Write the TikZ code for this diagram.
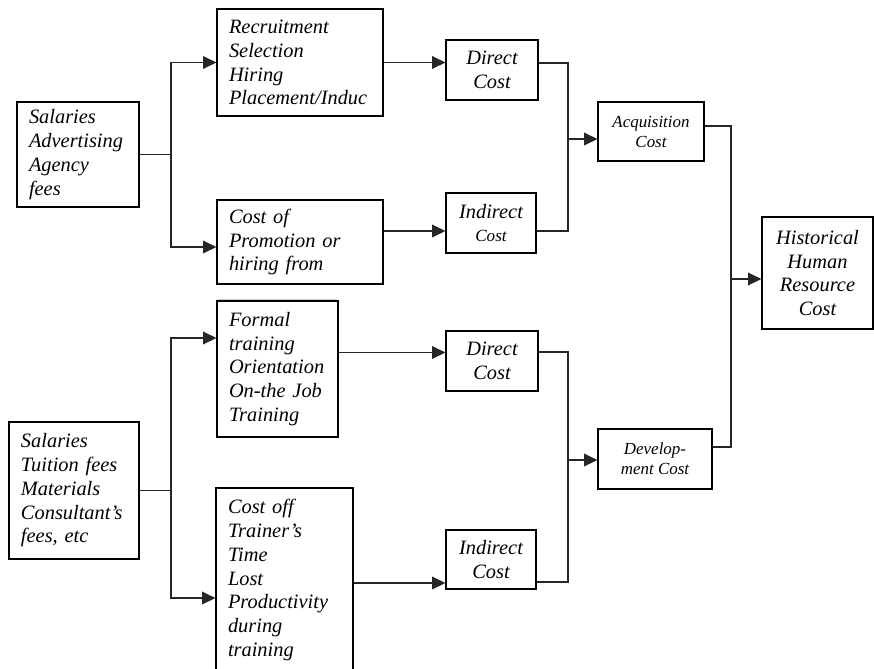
\documentclass[tikz,border=0pt]{standalone}
\usepackage{fontspec}
\setmainfont{Liberation Serif}
\usetikzlibrary{arrows.meta,calc}
\tikzset{
  bx/.style={draw, line width=0.9pt, inner xsep=9pt, inner ysep=0pt,
    font=\itshape\fontsize{15.3}{17.8}\selectfont},
  lbox/.style n args={2}{bx, align=left, text width=#1, minimum height=#2},
  cbox/.style n args={2}{bx, align=center, inner xsep=2pt, minimum width=#1, minimum height=#2},
  smallf/.style={font=\itshape\fontsize{12.7}{15}\selectfont},
  ln/.style={line width=1pt, draw=black!85},
  arr/.style={ln, -{Triangle[length=10pt,width=9.5pt]}}
}
\begin{document}
\begin{tikzpicture}[x=0.75pt,y=-0.75pt]
\useasboundingbox (0,0) rectangle (874,668);
\clip (0,0) rectangle (874,668);
% left sources
\node[lbox={73.5pt}{78.75pt}] (a1) at (78,154.5) {Salaries\\Advertising\\Agency\\fees};
\node[lbox={79.5pt}{102.75pt}] (a2) at (74,490.5) {Salaries\\Tuition fees\\Materials\\Consultant’s\\fees, etc};
% activities
\node[lbox={106.5pt}{80.25pt}] (r1) at (300,62.5) {Recruitment\\Selection\\Hiring\\Placement/Induc};
\node[lbox={106.5pt}{63pt}] (r2) at (300,242) {Cost of\\Promotion or\\hiring from};
\node[lbox={72.75pt}{102pt}] (f1) at (277.5,369) {Formal\\training\\Orientation\\On-the Job\\Training};
\node[lbox={84.75pt}{138pt}] (c2) at (284.5,580) {Cost off\\Trainer’s\\Time\\Lost\\Productivity\\during\\training};
% direct / indirect
\node[cbox={69pt}{45pt}] (d1) at (492,70) {Direct\\Cost};
\node[cbox={67.5pt}{45pt}] (i1) at (491,223) {Indirect\\{\fontsize{12.8}{15}\selectfont Cost}};
\node[cbox={69pt}{45pt}] (d2) at (492,361) {Direct\\Cost};
\node[cbox={67.5pt}{44.25pt}] (i2) at (491,559.5) {Indirect\\Cost};
% aggregates
\node[cbox={79.5pt}{44.25pt}, smallf] (acq) at (651,131.5) {Acquisition\\Cost};
\node[cbox={85.5pt}{45pt}, smallf] (dev) at (655,459) {Develop-\\ment Cost};
\node[cbox={83.25pt}{84pt}] (his) at (817.5,273) {Historical\\Human\\Resource\\Cost};
% faint line
\draw[gray!40, line width=0.6pt] (217,299) -- (337,299);
% connectors from sources
\coordinate (s1) at (171,154.5);
\draw[ln] (a1.east) -- (s1);
\draw[arr] (s1) |- (r1.west);
\draw[arr] (s1) |- ($(r2.west)+(0,5)$);
\coordinate (s2) at (171,490.5);
\draw[ln] (a2.east) -- (s2);
\draw[arr] (s2) |- ($(f1.west)+(0,-31)$);
\draw[arr] (s2) |- ($(c2.west)+(0,18)$);
% activities to direct/indirect
\draw[arr] (r1.east) -- (r1.east -| d1.west);
\coordinate (r2o) at ($(r2.east)+(0,-11)$);
\draw[arr] (r2o) -- (r2o -| i1.west);
\coordinate (f1o) at ($(f1.east)+(0,-16.5)$);
\draw[arr] (f1o) -- (f1o -| d2.west);
\coordinate (c2o) at ($(c2.east)+(0,3)$);
\draw[arr] (c2o) -- (c2o -| i2.west);
% merges
\coordinate (m1) at (568,139);
\draw[ln] ($(d1.east)+(0,-7)$) -| (m1);
\draw[ln] ($(i1.east)+(0,8)$) -| (m1);
\draw[arr] (m1) -- (m1 -| acq.west);
\coordinate (m2) at (568,460);
\draw[ln] ($(d2.east)+(0,-9)$) -| (m2);
\draw[ln] ($(i2.east)+(0,22.5)$) -| (m2);
\draw[arr] (m2) -- (m2 -| dev.west);
\coordinate (m3) at (731,279);
\draw[ln] ($(acq.east)+(0,-5.5)$) -| (m3);
\draw[ln] ($(dev.east)+(0,-12)$) -| (m3);
\draw[arr] (m3) -- (m3 -| his.west);
\end{tikzpicture}
\end{document}
